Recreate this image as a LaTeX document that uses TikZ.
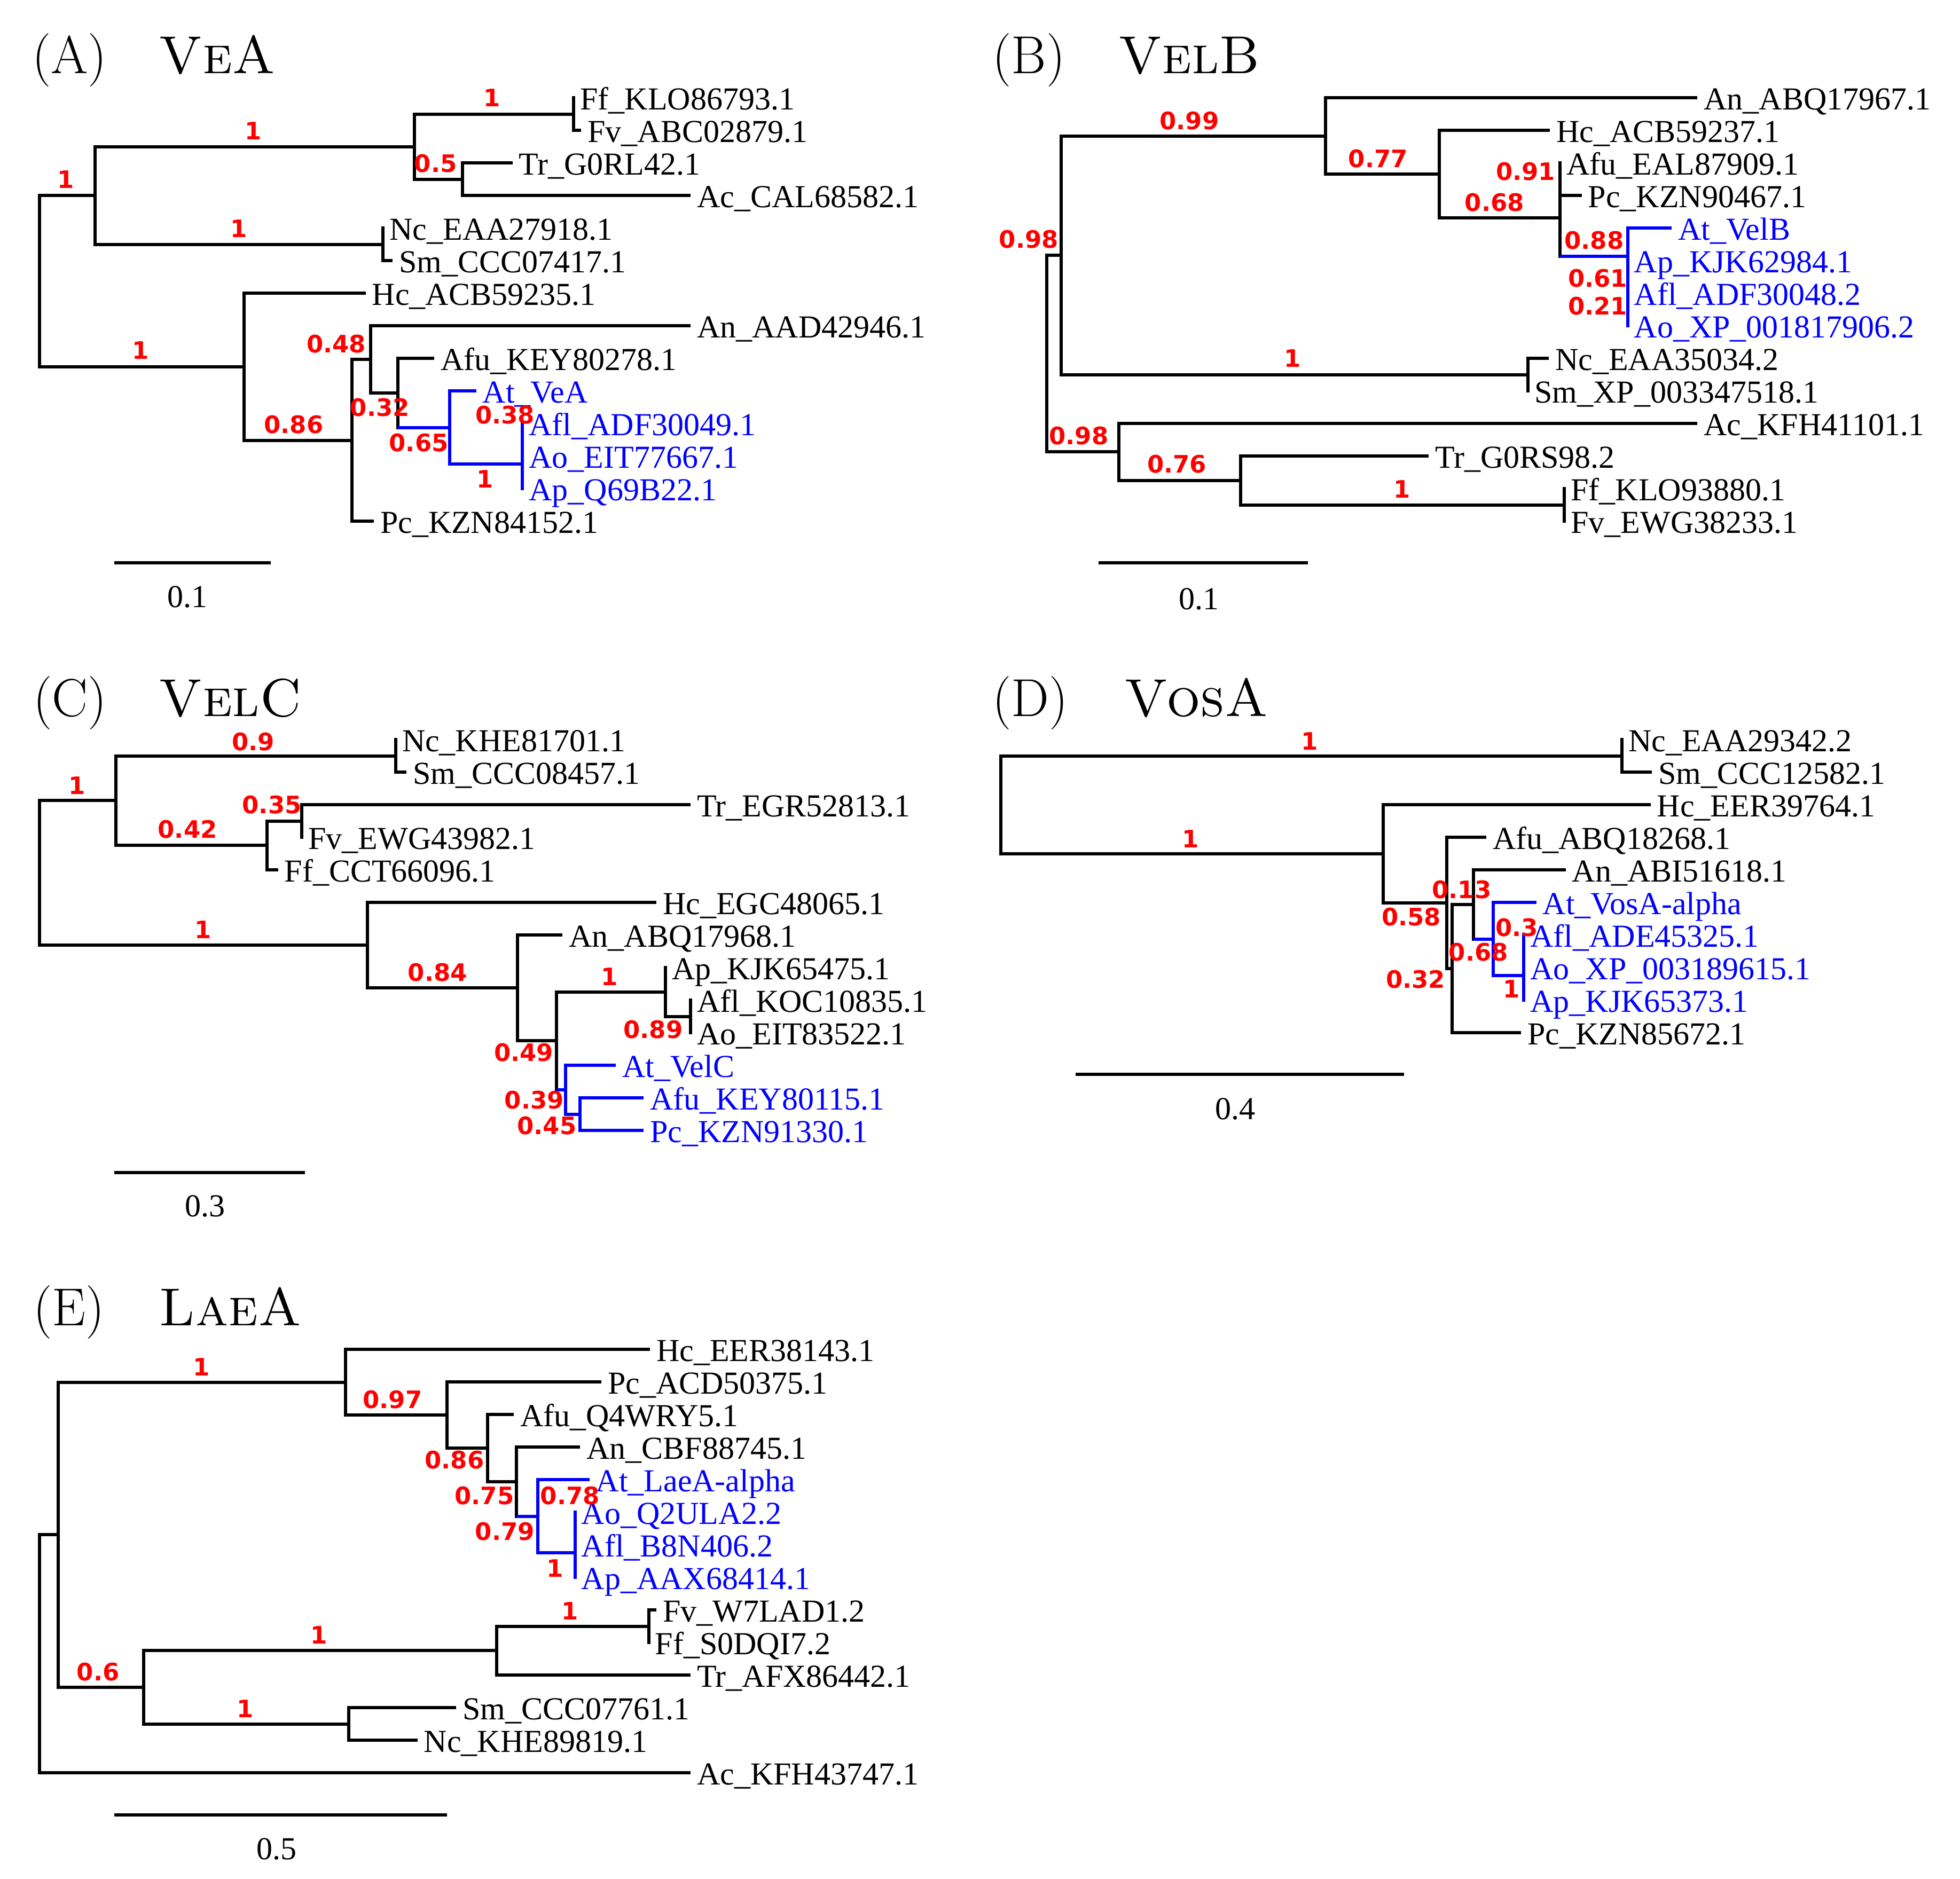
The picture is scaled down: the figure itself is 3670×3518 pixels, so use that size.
\documentclass[tikz,border=0pt]{standalone}
\usepackage{fontspec}
\newfontfamily\tipfont{Liberation Serif}
\newfontfamily\bsfont{DejaVu Sans}
\tikzset{
  br/.style={line width=6pt},
  vbr/.style={line width=6pt, line cap=rect},
  tiplab/.style={anchor=base west, inner sep=0pt, xshift=12pt, yshift=-22pt, font={\tipfont\fontsize{60}{72}\selectfont}},
  bluelab/.style={tiplab, text=blue},
  bs/.style={inner sep=0pt, text=red, font={\bsfont\bfseries\fontsize{45}{54}\selectfont}},
  ttl/.style={anchor=base west, inner sep=0pt, font={\fontsize{100}{120}\selectfont}},
  sclab/.style={inner sep=0pt, font={\tipfont\fontsize{60}{72}\selectfont}},
}
\newcommand{\treebranch}[4]{\draw[vbr,#3] (#1) -- (#1 |- #2); \draw[br,#4] (#1 |- #2) -- (#2);}
\begin{document}
\begin{tikzpicture}[x=1pt,y=-1pt]
\fill[white] (0,0) rectangle (3670,3518);
\useasboundingbox (0,0) rectangle (3670,3518);

% ================= Panel A =================
\node[ttl] (ttlA1) at (60,137.9) {(A)};
\node[ttl] (ttlA2) at (297.5,137.9) {\textsc{VeA}};
\coordinate (rA) at (73.8,526.4);
\coordinate (a1) at (178.0,366);
\coordinate (a2) at (775.9,274.5);
\coordinate (a3) at (1074.4,213.5);
\coordinate (a4) at (866.0,335.5);
\coordinate (a5) at (717.3,457.5);
\coordinate (a6) at (456.5,686.7);
\coordinate (a7) at (658.9,824.5);
\coordinate (a8) at (694.0,672.9);
\coordinate (a9) at (745.4,735.8);
\coordinate (a10) at (841.7,800.6);
\coordinate (a11) at (978.3,869.25);
\coordinate (a12) at (978.3,823.5);
\coordinate (tAFf) at (1074.4,183);
\coordinate (tAFv) at (1088.4,244);
\coordinate (tATr) at (959.7,305);
\coordinate (tAAc) at (1293.1,366);
\coordinate (tANc) at (717.3,427);
\coordinate (tASm) at (735,488);
\coordinate (tAHc) at (684.7,549);
\coordinate (tAAn) at (1293.1,610);
\coordinate (tAAfu) at (813.4,671);
\coordinate (tAAt) at (891.7,732);
\coordinate (tAAfl) at (978.3,793);
\coordinate (tAAo) at (978.3,854);
\coordinate (tAAp) at (978.3,915);
\coordinate (tAPc) at (699.8,976);
\treebranch{rA}{a1}{black}{black}
\treebranch{rA}{a6}{black}{black}
\treebranch{a1}{a2}{black}{black}
\treebranch{a1}{a5}{black}{black}
\treebranch{a2}{a3}{black}{black}
\treebranch{a2}{a4}{black}{black}
\treebranch{a3}{tAFf}{black}{black}
\treebranch{a3}{tAFv}{black}{black}
\treebranch{a4}{tATr}{black}{black}
\treebranch{a4}{tAAc}{black}{black}
\treebranch{a5}{tANc}{black}{black}
\treebranch{a5}{tASm}{black}{black}
\treebranch{a6}{tAHc}{black}{black}
\treebranch{a6}{a7}{black}{black}
\treebranch{a7}{a8}{black}{black}
\treebranch{a7}{tAPc}{black}{black}
\treebranch{a8}{tAAn}{black}{black}
\treebranch{a8}{a9}{black}{black}
\treebranch{a9}{tAAfu}{black}{black}
\treebranch{a9}{a10}{black}{blue}
\treebranch{a10}{tAAt}{blue}{blue}
\treebranch{a10}{a11}{blue}{blue}
\treebranch{a11}{a12}{blue}{blue}
\treebranch{a11}{tAAp}{blue}{blue}
\treebranch{a12}{tAAfl}{blue}{blue}
\treebranch{a12}{tAAo}{blue}{blue}
\node[tiplab] (nAFf) at (tAFf) {Ff\_KLO86793.1};
\node[tiplab] (nAFv) at (tAFv) {Fv\_ABC02879.1};
\node[tiplab] (nATr) at (tATr) {Tr\_G0RL42.1};
\node[tiplab] (nAAc) at (tAAc) {Ac\_CAL68582.1};
\node[tiplab] (nANc) at (tANc) {Nc\_EAA27918.1};
\node[tiplab] (nASm) at (tASm) {Sm\_CCC07417.1};
\node[tiplab] (nAHc) at (tAHc) {Hc\_ACB59235.1};
\node[tiplab] (nAAn) at (tAAn) {An\_AAD42946.1};
\node[tiplab] (nAAfu) at (tAAfu) {Afu\_KEY80278.1};
\node[bluelab] (nAAt) at (tAAt) {At\_VeA};
\node[bluelab] (nAAfl) at (tAAfl) {Afl\_ADF30049.1};
\node[bluelab] (nAAo) at (tAAo) {Ao\_EIT77667.1};
\node[bluelab] (nAAp) at (tAAp) {Ap\_Q69B22.1};
\node[tiplab] (nAPc) at (tAPc) {Pc\_KZN84152.1};
\node[bs] (lA1) at (123.3,336.4) {1};
\node[bs] (lA2) at (473.9,244.7) {1};
\node[bs] (lA3) at (921.3,183.5) {1};
\node[bs] (lA4) at (815.7,306.3) {0.5};
\node[bs] (lA5) at (446.7,428.2) {1};
\node[bs] (lA6) at (262.9,656.4) {1};
\node[bs] (lA7) at (550.0,795.6) {0.86};
\node[bs] (lA8) at (629.6,644.1) {0.48};
\node[bs] (lA9) at (711.5,763.2) {0.32};
\node[bs] (lA10) at (784.1,829.3) {0.65};
\node[bs] (lA11) at (908.3,896.6) {1};
\node[bs] (lA12) at (945.7,776.7) {0.38};
\coordinate (sA1) at (214,1054.4);
\coordinate (sA2) at (506.7,1054.4);
\draw[br] (sA1) -- (sA2);
\node[sclab] (sAl) at (351.3,1118) {0.1};

% ================= Panel B =================
\node[ttl] (ttlB1) at (1858,137.9) {(B)};
\node[ttl] (ttlB2) at (2094,137.9) {\textsc{VelB}};
\coordinate (rB) at (1960.2,662.2);
\coordinate (b1) at (1987.2,478);
\coordinate (b2) at (2482.3,254.5);
\coordinate (b3) at (2695.2,326);
\coordinate (bP) at (2921,407.9);
\coordinate (bQ) at (2921,335.5);
\coordinate (bB1) at (3047.5,480.4);
\coordinate (bB2) at (3047.5,533.75);
\coordinate (bB3) at (3047.5,579.5);
\coordinate (b4) at (2861.3,701.5);
\coordinate (b5) at (2094.9,846.4);
\coordinate (b6) at (2323.1,899.75);
\coordinate (b7) at (2929.2,945.5);
\coordinate (tBAn) at (3178.4,183);
\coordinate (tBHc) at (2902.2,244);
\coordinate (tBAfu) at (2921,305);
\coordinate (tBPc) at (2961.7,366);
\coordinate (tBAt) at (3130,427);
\coordinate (tBAp) at (3047.5,488);
\coordinate (tBAfl) at (3047.5,549);
\coordinate (tBAo) at (3047.5,610);
\coordinate (tBNc) at (2900,671);
\coordinate (tBSm) at (2861.3,732);
\coordinate (tBAc) at (3178.4,793);
\coordinate (tBTr) at (2675.4,854);
\coordinate (tBFf) at (2929.2,915);
\coordinate (tBFv) at (2929.2,976);
\treebranch{rB}{b1}{black}{black}
\treebranch{rB}{b5}{black}{black}
\treebranch{b1}{b2}{black}{black}
\treebranch{b1}{b4}{black}{black}
\treebranch{b2}{tBAn}{black}{black}
\treebranch{b2}{b3}{black}{black}
\treebranch{b3}{tBHc}{black}{black}
\treebranch{b3}{bP}{black}{black}
\treebranch{bP}{bQ}{black}{black}
\treebranch{bP}{bB1}{black}{blue}
\treebranch{bQ}{tBAfu}{black}{black}
\treebranch{bQ}{tBPc}{black}{black}
\treebranch{bB1}{tBAt}{blue}{blue}
\treebranch{bB1}{bB2}{blue}{blue}
\treebranch{bB2}{tBAp}{blue}{blue}
\treebranch{bB2}{bB3}{blue}{blue}
\treebranch{bB3}{tBAfl}{blue}{blue}
\treebranch{bB3}{tBAo}{blue}{blue}
\treebranch{b4}{tBNc}{black}{black}
\treebranch{b4}{tBSm}{black}{black}
\treebranch{b5}{tBAc}{black}{black}
\treebranch{b5}{b6}{black}{black}
\treebranch{b6}{tBTr}{black}{black}
\treebranch{b6}{b7}{black}{black}
\treebranch{b7}{tBFf}{black}{black}
\treebranch{b7}{tBFv}{black}{black}
\node[tiplab] (nBAn) at (tBAn) {An\_ABQ17967.1};
\node[tiplab] (nBHc) at (tBHc) {Hc\_ACB59237.1};
\node[tiplab] (nBAfu) at (tBAfu) {Afu\_EAL87909.1};
\node[tiplab] (nBPc) at (tBPc) {Pc\_KZN90467.1};
\node[bluelab] (nBAt) at (tBAt) {At\_VelB};
\node[bluelab] (nBAp) at (tBAp) {Ap\_KJK62984.1};
\node[bluelab] (nBAfl) at (tBAfl) {Afl\_ADF30048.2};
\node[bluelab] (nBAo) at (tBAo) {Ao\_XP\_001817906.2};
\node[tiplab] (nBNc) at (tBNc) {Nc\_EAA35034.2};
\node[tiplab] (nBSm) at (tBSm) {Sm\_XP\_003347518.1};
\node[tiplab] (nBAc) at (tBAc) {Ac\_KFH41101.1};
\node[tiplab] (nBTr) at (tBTr) {Tr\_G0RS98.2};
\node[tiplab] (nBFf) at (tBFf) {Ff\_KLO93880.1};
\node[tiplab] (nBFv) at (tBFv) {Fv\_EWG38233.1};
\node[bs] (lB1) at (2227.0,225.9) {0.99};
\node[bs] (lB2) at (1926.2,448.6) {0.98};
\node[bs] (lB3) at (2580.4,296.7) {0.77};
\node[bs] (lB4) at (2798.2,378.8) {0.68};
\node[bs] (lB5) at (2856.6,321.6) {0.91};
\node[bs] (lB6) at (2985,450) {0.88};
\node[bs] (lB7) at (2991.7,520.7) {0.61};
\node[bs] (lB8) at (2991.7,573.3) {0.21};
\node[bs] (lB9) at (2420.1,671.4) {1};
\node[bs] (lB10) at (2020.0,816.6) {0.98};
\node[bs] (lB11) at (2203.5,869.3) {0.76};
\node[bs] (lB12) at (2624.9,915.6) {1};
\coordinate (sB1) at (2057.4,1054.4);
\coordinate (sB2) at (2449.4,1054.4);
\draw[br] (sB1) -- (sB2);
\node[sclab] (sBl) at (2244.5,1121.7) {0.1};

% ================= Panel C =================
\node[ttl] (ttlC1) at (62,1341.7) {(C)};
\node[ttl] (ttlC2) at (297.5,1341.7) {\textsc{VelC}};
\coordinate (rC) at (73.8,1634.7);
\coordinate (c1) at (216.6,1499.4);
\coordinate (cNS) at (740.8,1415.5);
\coordinate (c42) at (499.8,1583.25);
\coordinate (c35) at (565.4,1537.5);
\coordinate (cHc) at (688.2,1770.06);
\coordinate (c84) at (969.0,1850.1);
\coordinate (c49) at (1041.6,1949.25);
\coordinate (cAp) at (1246.4,1857.75);
\coordinate (cAA) at (1293.1,1903.5);
\coordinate (cBl) at (1059.1,2040.75);
\coordinate (cAP) at (1086.1,2086.5);
\coordinate (tCNc) at (740.8,1385);
\coordinate (tCSm) at (760.8,1446);
\coordinate (tCTr) at (1293.1,1507);
\coordinate (tCFv) at (565.4,1568);
\coordinate (tCFf) at (520.7,1629);
\coordinate (tCHc) at (1228.9,1690);
\coordinate (tCAn) at (1053.3,1751);
\coordinate (tCAp) at (1246.4,1812);
\coordinate (tCAfl) at (1293.1,1873);
\coordinate (tCAo) at (1293.1,1934);
\coordinate (tCAt) at (1152.8,1995);
\coordinate (tCAfu) at (1205.4,2056);
\coordinate (tCPc) at (1205.4,2117);
\treebranch{rC}{c1}{black}{black}
\treebranch{rC}{cHc}{black}{black}
\treebranch{c1}{cNS}{black}{black}
\treebranch{c1}{c42}{black}{black}
\treebranch{cNS}{tCNc}{black}{black}
\treebranch{cNS}{tCSm}{black}{black}
\treebranch{c42}{c35}{black}{black}
\treebranch{c42}{tCFf}{black}{black}
\treebranch{c35}{tCTr}{black}{black}
\treebranch{c35}{tCFv}{black}{black}
\treebranch{cHc}{tCHc}{black}{black}
\treebranch{cHc}{c84}{black}{black}
\treebranch{c84}{tCAn}{black}{black}
\treebranch{c84}{c49}{black}{black}
\treebranch{c49}{cAp}{black}{black}
\treebranch{c49}{cBl}{black}{blue}
\treebranch{cAp}{tCAp}{black}{black}
\treebranch{cAp}{cAA}{black}{black}
\treebranch{cAA}{tCAfl}{black}{black}
\treebranch{cAA}{tCAo}{black}{black}
\treebranch{cBl}{tCAt}{blue}{blue}
\treebranch{cBl}{cAP}{blue}{blue}
\treebranch{cAP}{tCAfu}{blue}{blue}
\treebranch{cAP}{tCPc}{blue}{blue}
\node[tiplab] (nCNc) at (tCNc) {Nc\_KHE81701.1};
\node[tiplab] (nCSm) at (tCSm) {Sm\_CCC08457.1};
\node[tiplab] (nCTr) at (tCTr) {Tr\_EGR52813.1};
\node[tiplab] (nCFv) at (tCFv) {Fv\_EWG43982.1};
\node[tiplab] (nCFf) at (tCFf) {Ff\_CCT66096.1};
\node[tiplab] (nCHc) at (tCHc) {Hc\_EGC48065.1};
\node[tiplab] (nCAn) at (tCAn) {An\_ABQ17968.1};
\node[tiplab] (nCAp) at (tCAp) {Ap\_KJK65475.1};
\node[tiplab] (nCAfl) at (tCAfl) {Afl\_KOC10835.1};
\node[tiplab] (nCAo) at (tCAo) {Ao\_EIT83522.1};
\node[bluelab] (nCAt) at (tCAt) {At\_VelC};
\node[bluelab] (nCAfu) at (tCAfu) {Afu\_KEY80115.1};
\node[bluelab] (nCPc) at (tCPc) {Pc\_KZN91330.1};
\node[bs] (lC1) at (473.9,1388.7) {0.9};
\node[bs] (lC2) at (144.0,1471.1) {1};
\node[bs] (lC3) at (351.1,1553.4) {0.42};
\node[bs] (lC4) at (509.1,1507.5) {0.35};
\node[bs] (lC5) at (380.4,1740.9) {1};
\node[bs] (lC6) at (819.2,1820.9) {0.84};
\node[bs] (lC7) at (980.7,1971.5) {0.49};
\node[bs] (lC8) at (1141.0,1828.7) {1};
\node[bs] (lC9) at (1222.9,1928.2) {0.89};
\node[bs] (lC10) at (1000.4,2060.2) {0.39};
\node[bs] (lC11) at (1023.9,2107.9) {0.45};
\coordinate (sC1) at (214,2195.9);
\coordinate (sC2) at (571.2,2195.9);
\draw[br] (sC1) -- (sC2);
\node[sclab] (sCl) at (383.9,2259.2) {0.3};

% ================= Panel D =================
\node[ttl] (ttlD1) at (1858,1341.9) {(D)};
\node[ttl] (ttlD2) at (2105.5,1341.9) {\textsc{VosA}};
\coordinate (rD) at (1873.6,1507.2);
\coordinate (dNS) at (3036.9,1415.5);
\coordinate (dHc) at (2589.7,1598.98);
\coordinate (d58) at (2709,1690.95);
\coordinate (d32) at (2719.3,1813.9);
\coordinate (d13) at (2759.3,1693.8);
\coordinate (dBl) at (2796,1758.6);
\coordinate (dX) at (2853.3,1827.25);
\coordinate (dY) at (2853.3,1781.5);
\coordinate (tDNc) at (3036.9,1385);
\coordinate (tDSm) at (3093.1,1446);
\coordinate (tDHc) at (3090.7,1507);
\coordinate (tDAfu) at (2782.9,1568);
\coordinate (tDAn) at (2931.6,1629);
\coordinate (tDAt) at (2876.7,1690);
\coordinate (tDAfl) at (2853.3,1751);
\coordinate (tDAo) at (2853.3,1812);
\coordinate (tDAp) at (2853.3,1873);
\coordinate (tDPc) at (2848.3,1934);
\treebranch{rD}{dNS}{black}{black}
\treebranch{rD}{dHc}{black}{black}
\treebranch{dNS}{tDNc}{black}{black}
\treebranch{dNS}{tDSm}{black}{black}
\treebranch{dHc}{tDHc}{black}{black}
\treebranch{dHc}{d58}{black}{black}
\treebranch{d58}{tDAfu}{black}{black}
\treebranch{d58}{d32}{black}{black}
\treebranch{d32}{d13}{black}{black}
\treebranch{d32}{tDPc}{black}{black}
\treebranch{d13}{tDAn}{black}{black}
\treebranch{d13}{dBl}{black}{blue}
\treebranch{dBl}{tDAt}{blue}{blue}
\treebranch{dBl}{dX}{blue}{blue}
\treebranch{dX}{dY}{blue}{blue}
\treebranch{dX}{tDAp}{blue}{blue}
\treebranch{dY}{tDAfl}{blue}{blue}
\treebranch{dY}{tDAo}{blue}{blue}
\node[tiplab] (nDNc) at (tDNc) {Nc\_EAA29342.2};
\node[tiplab] (nDSm) at (tDSm) {Sm\_CCC12582.1};
\node[tiplab] (nDHc) at (tDHc) {Hc\_EER39764.1};
\node[tiplab] (nDAfu) at (tDAfu) {Afu\_ABQ18268.1};
\node[tiplab] (nDAn) at (tDAn) {An\_ABI51618.1};
\node[bluelab] (nDAt) at (tDAt) {At\_VosA-alpha};
\node[bluelab] (nDAfl) at (tDAfl) {Afl\_ADE45325.1};
\node[bluelab] (nDAo) at (tDAo) {Ao\_XP\_003189615.1};
\node[bluelab] (nDAp) at (tDAp) {Ap\_KJK65373.1};
\node[tiplab] (nDPc) at (tDPc) {Pc\_KZN85672.1};
\node[bs] (lD1) at (2451.8,1387.8) {1};
\node[bs] (lD2) at (2229.4,1571.5) {1};
\node[bs] (lD3) at (2642.5,1716.7) {0.58};
\node[bs] (lD4) at (2737,1665.8) {0.13};
\node[bs] (lD5) at (2650.7,1833.8) {0.32};
\node[bs] (lD6) at (2768.3,1783.3) {0.68};
\node[bs] (lD7) at (2840,1736.7) {0.3};
\node[bs] (lD8) at (2830,1851.7) {1};
\coordinate (sD1) at (2014,2012.3);
\coordinate (sD2) at (2628.5,2012.3);
\draw[br] (sD1) -- (sD2);
\node[sclab] (sDl) at (2312.5,2076.6) {0.4};

% ================= Panel E =================
\node[ttl] (ttlE1) at (62,2482.5) {(E)};
\node[ttl] (ttlE2) at (297.5,2482.5) {\textsc{LaeA}};
\coordinate (rE) at (73.8,3097.1);
\coordinate (e1) at (108.9,2874.2);
\coordinate (e2) at (647.3,2588.5);
\coordinate (e3) at (836.6,2649.95);
\coordinate (e4) at (912.7,2711.9);
\coordinate (e5) at (966.7,2774.8);
\coordinate (eBl) at (1006.5,2839.6);
\coordinate (eX) at (1076.7,2908.25);
\coordinate (eY) at (1076.7,2862.5);
\coordinate (e6) at (269.2,3159.9);
\coordinate (e7) at (930.4,3091.25);
\coordinate (e8) at (1214.7,3045.5);
\coordinate (e9) at (653.1,3228.5);
\coordinate (tEHc) at (1217.0,2527);
\coordinate (tEPc) at (1125.8,2588);
\coordinate (tEAfu) at (962.0,2649);
\coordinate (tEAn) at (1086.1,2710);
\coordinate (tEAt) at (1103.5,2771);
\coordinate (tEAo) at (1076.7,2832);
\coordinate (tEAfl) at (1076.7,2893);
\coordinate (tEAp) at (1076.7,2954);
\coordinate (tEFv) at (1228.9,3015);
\coordinate (tEFf) at (1214.7,3076);
\coordinate (tETr) at (1293.1,3137);
\coordinate (tESm) at (854.3,3198);
\coordinate (tENc) at (781.7,3259);
\coordinate (tEAc) at (1293.1,3320);
\treebranch{rE}{e1}{black}{black}
\treebranch{rE}{tEAc}{black}{black}
\treebranch{e1}{e2}{black}{black}
\treebranch{e1}{e6}{black}{black}
\treebranch{e2}{tEHc}{black}{black}
\treebranch{e2}{e3}{black}{black}
\treebranch{e3}{tEPc}{black}{black}
\treebranch{e3}{e4}{black}{black}
\treebranch{e4}{tEAfu}{black}{black}
\treebranch{e4}{e5}{black}{black}
\treebranch{e5}{tEAn}{black}{black}
\treebranch{e5}{eBl}{black}{blue}
\treebranch{eBl}{tEAt}{blue}{blue}
\treebranch{eBl}{eX}{blue}{blue}
\treebranch{eX}{eY}{blue}{blue}
\treebranch{eX}{tEAp}{blue}{blue}
\treebranch{eY}{tEAo}{blue}{blue}
\treebranch{eY}{tEAfl}{blue}{blue}
\treebranch{e6}{e7}{black}{black}
\treebranch{e6}{e9}{black}{black}
\treebranch{e7}{e8}{black}{black}
\treebranch{e7}{tETr}{black}{black}
\treebranch{e8}{tEFv}{black}{black}
\treebranch{e8}{tEFf}{black}{black}
\treebranch{e9}{tESm}{black}{black}
\treebranch{e9}{tENc}{black}{black}
\node[tiplab] (nEHc) at (tEHc) {Hc\_EER38143.1};
\node[tiplab] (nEPc) at (tEPc) {Pc\_ACD50375.1};
\node[tiplab] (nEAfu) at (tEAfu) {Afu\_Q4WRY5.1};
\node[tiplab] (nEAn) at (tEAn) {An\_CBF88745.1};
\node[bluelab] (nEAt) at (tEAt) {At\_LaeA-alpha};
\node[bluelab] (nEAo) at (tEAo) {Ao\_Q2ULA2.2};
\node[bluelab] (nEAfl) at (tEAfl) {Afl\_B8N406.2};
\node[bluelab] (nEAp) at (tEAp) {Ap\_AAX68414.1};
\node[tiplab] (nEFv) at (tEFv) {Fv\_W7LAD1.2};
\node[tiplab] (nEFf) at (tEFf) {Ff\_S0DQI7.2};
\node[tiplab] (nETr) at (tETr) {Tr\_AFX86442.1};
\node[tiplab] (nESm) at (tESm) {Sm\_CCC07761.1};
\node[tiplab] (nENc) at (tENc) {Nc\_KHE89819.1};
\node[tiplab] (nEAc) at (tEAc) {Ac\_KFH43747.1};
\node[bs] (lE1) at (376.9,2559.9) {1};
\node[bs] (lE2) at (735.0,2621.1) {0.97};
\node[bs] (lE3) at (850.8,2734.0) {0.86};
\node[bs] (lE4) at (906.9,2801.0) {0.75};
\node[bs] (lE5) at (1067.2,2801.0) {0.78};
\node[bs] (lE6) at (945.5,2867.8) {0.79};
\node[bs] (lE7) at (1039.3,2936.8) {1};
\node[bs] (lE8) at (183.8,3131.1) {0.6};
\node[bs] (lE9) at (596.8,3062.2) {1};
\node[bs] (lE10) at (1067.2,3017.0) {1};
\node[bs] (lE11) at (458.8,3200.0) {1};
\coordinate (sE1) at (214,3399.3);
\coordinate (sE2) at (836.7,3399.3);
\draw[br] (sE1) -- (sE2);
\node[sclab] (sEl) at (518.4,3462.5) {0.5};
\end{tikzpicture}
\end{document}
